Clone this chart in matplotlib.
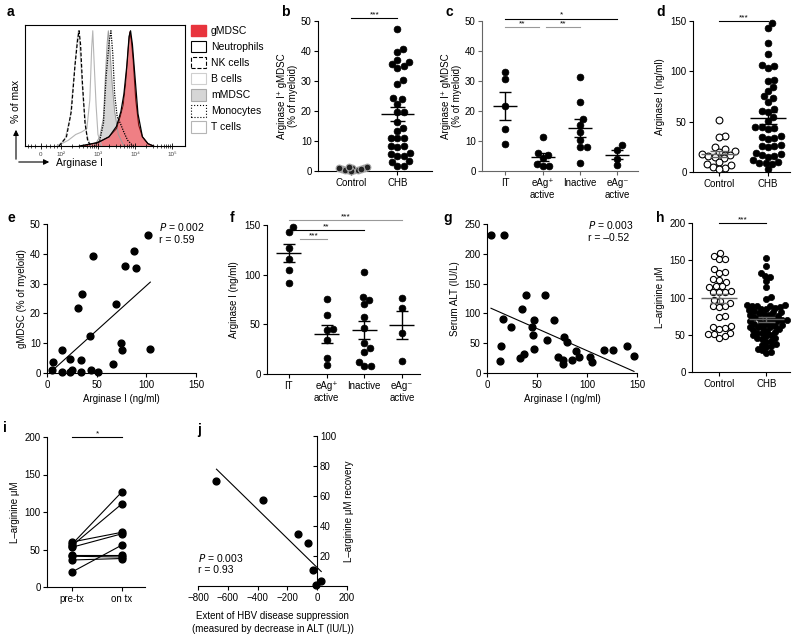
import numpy as np
import matplotlib
matplotlib.use('Agg')
import matplotlib.pyplot as plt
from matplotlib.patches import Patch, FancyArrowPatch

plt.rcParams['font.family'] = ['Liberation Sans', 'DejaVu Sans']
plt.rcParams['font.size'] = 7
plt.rcParams['axes.linewidth'] = 0.8
plt.rcParams['xtick.major.width'] = 0.8
plt.rcParams['ytick.major.width'] = 0.8
plt.rcParams['xtick.major.size'] = 3
plt.rcParams['ytick.major.size'] = 3
plt.rcParams['xtick.major.pad'] = 2
plt.rcParams['ytick.major.pad'] = 1.5

W, H = 800, 637

# ---- a: histograms, x in decades (1 = 10^2, 2 = 10^3, ...) ----
hist_labels = ['gMDSC', 'Neutrophils', 'NK cells', 'B cells', 'mMDSC', 'Monocytes', 'T cells']
a_ticklabels = ['0', '10²', '10³', '10⁴', '10⁵']
gmdsc_x = [1.6, 2.0, 2.3, 2.5, 2.6, 2.68, 2.75, 2.82, 2.86, 2.9, 2.95, 3.02, 3.1, 3.2, 3.35, 3.5]
gmdsc_y = [0, 3, 8, 15, 25, 35, 55, 85, 99, 92, 75, 40, 18, 8, 2, 0]
neut_x = [1.5, 2.0, 2.3, 2.5, 2.62, 2.7, 2.78, 2.84, 2.88, 2.93, 3.0, 3.08, 3.2, 3.35, 3.5]
neut_y = [0, 3, 8, 17, 30, 45, 70, 95, 100, 88, 60, 28, 8, 2, 0]
mono_x = [1.9, 2.05, 2.15, 2.22, 2.3, 2.35, 2.4, 2.45, 2.52, 2.6, 2.7, 2.8, 2.95]
mono_y = [0, 5, 20, 60, 90, 100, 80, 45, 25, 20, 12, 5, 0]
mmdsc_x = [1.9, 2.05, 2.15, 2.2, 2.25, 2.28, 2.32, 2.38, 2.45, 2.55, 2.7]
mmdsc_y = [0, 8, 25, 60, 90, 100, 85, 55, 30, 10, 0]
bcell_x = [0.9, 1.2, 1.4, 1.55, 1.7, 1.78, 1.83, 1.86, 1.9, 1.95, 2.0, 2.1]
bcell_y = [0, 5, 10, 12, 15, 40, 85, 100, 70, 35, 10, 0]
nk_x = [0.95, 1.15, 1.28, 1.38, 1.45, 1.49, 1.53, 1.58, 1.65, 1.72, 1.8]
nk_y = [0, 8, 30, 70, 92, 100, 88, 55, 20, 5, 0]
tcell_x = [0.9, 1.1, 1.25, 1.35, 1.43, 1.47, 1.52, 1.6, 1.7, 1.8]
tcell_y = [0, 5, 25, 60, 90, 100, 80, 40, 10, 0]

# ---- b ----
b_groups = ['Control', 'CHB']
b_control = [0.2, 0.4, 0.9, 1.2, 0.3, 0.8, 1.1, 0.5, 0.1, 1.0, 0.6, 1.3]
b_chb = [47.3, 40.6, 39.8, 37.0, 36.4, 35.6, 35.0, 34.4, 30.3, 29.0, 24.2, 23.9, 22.5,
         19.7, 19.7, 16.4, 14.5, 13.4, 11.0, 11.0, 11.0, 8.4, 8.4, 8.0, 6.0, 5.7, 5.0,
         4.9, 3.3, 3.0, 1.8, 1.7]

# ---- c ----
phase_labels = ['IT', 'eAg⁺\nactive', 'Inactive', 'eAg⁻\nactive']
c_it = [33.1, 30.8, 21.6, 14.1, 9.1]
c_eag_pos = [11.2, 6.0, 5.5, 4.5, 2.5, 1.8, 1.6]
c_inactive = [31.3, 23.0, 17.5, 15.5, 13.0, 10.2, 8.0, 8.0, 2.7]
c_eag_neg = [8.6, 7.0, 4.1, 1.9]

# ---- d ----
d_control = [52, 36, 35, 25, 23, 21, 20, 18, 17, 16, 15, 14, 10, 8, 7, 5, 4, 3]
d_chb = [148, 143, 128, 117, 106, 105, 103, 91, 90, 84, 80, 75, 74, 70, 63, 61, 60, 55,
         51, 45, 45, 44, 43, 36, 35, 34, 33, 27, 26, 26, 25, 19, 18, 17, 16, 15, 12, 10,
         9, 9, 8, 3]

# ---- e ----
e_arg = [101.7, 87.7, 46.0, 79.0, 90.0, 35.0, 31.7, 69.7, 43.3, 74.3, 75.7, 104.0, 15.0,
         6.0, 22.7, 34.3, 66.0, 5.3, 25.3, 44.0, 14.7, 22.7, 34.0, 51.0]
e_gmdsc = [46.3, 41.1, 39.4, 36.0, 35.4, 26.5, 21.7, 23.3, 12.4, 10.0, 7.8, 8.0, 7.6,
           3.7, 4.7, 4.5, 3.0, 1.0, 1.1, 1.1, 0.3, 0.2, 0.3, 0.4]

# ---- f ----
f_it = [147.7, 142.6, 127.2, 115.8, 104.7, 91.3]
f_eag_pos = [75.5, 59.4, 45.0, 44.3, 34.2, 15.8, 9.1]
f_inactive = [102.3, 77.2, 74.5, 70.1, 57.0, 46.6, 31.5, 25.8, 22.5, 12.4, 8.4, 8.4]
f_eag_neg = [76.2, 66.8, 41.0, 13.4]

# ---- g ----
g_arg = [4, 17.3, 39, 58.3, 35, 16, 47.3, 66.7, 24, 45, 45.7, 60, 76.7, 80, 14.3, 47,
         36.7, 32.7, 71, 12.7, 75.7, 76, 85, 89.3, 91.7, 102.7, 105, 116.7, 126, 140, 147]
g_alt = [231.6, 231.6, 131, 131, 107, 90.4, 89.3, 89.3, 77, 76.5, 64.2, 54.7, 59.7, 51.9,
         44.6, 40.7, 32.4, 25.1, 26.2, 20.6, 15.6, 21.2, 21.2, 36.3, 26.2, 26.2, 18.4,
         37.9, 38, 45, 28]

# ---- h ----
h_control = [160, 156, 152, 152, 138, 134, 133, 125, 124, 121, 115, 115, 114, 109, 108,
             108, 108, 97, 95, 93, 89, 88, 87, 75, 74, 62, 61, 59, 58, 53, 51, 51, 48, 46]
h_chb = [153, 142, 133, 129, 127, 122, 114, 101, 98, 90, 90, 89, 88, 88, 87, 86, 85, 84,
         83, 82, 80, 80, 79, 78, 77, 76, 75, 74, 73, 72, 71, 70, 70, 69, 68, 67, 66, 65,
         64, 63, 62, 61, 60, 60, 59, 58, 56, 55, 54, 53, 52, 50, 49, 48, 46, 45, 44, 42,
         40, 38, 36, 35, 33, 31, 29, 27, 25]

# ---- i ----
i_groups = ['pre-tx', 'on tx']
i_pre = [60, 57, 55, 53, 43, 41, 36, 20]
i_on = [73, 127, 111, 71, 43, 40, 38, 56]

# ---- j ----
j_alt = [-676, -366, -126, -58.5, -29, -6.8, 27]
j_arg = [69.8, 57.5, 34.9, 28.7, 10.9, 0.7, 3.3]


def add_ax(fig, left, right, top, bottom):
    return fig.add_axes([left / W, 1 - bottom / H, (right - left) / W, (bottom - top) / H])


def prism(ax):
    ax.spines['top'].set_visible(False)
    ax.spines['right'].set_visible(False)


def swarm(ax, x0, vals, diam):
    # simple beeswarm in pixel space
    tr = ax.transData
    ypx = tr.transform(np.column_stack([np.full(len(vals), x0), vals]))[:, 1]
    xscale = tr.transform((1, 0))[0] - tr.transform((0, 0))[0]
    placed = []
    xs = np.zeros(len(vals))
    for i in np.argsort(ypx):
        y = ypx[i]
        cands = [0.0]
        for px, py in placed:
            dy = y - py
            if abs(dy) < diam:
                dx = np.sqrt(diam ** 2 - dy ** 2)
                cands += [px + dx, px - dx]
        cands.sort(key=abs)
        for c in cands:
            if all((c - px) ** 2 + (y - py) ** 2 >= diam ** 2 - 1e-6 for px, py in placed):
                break
        placed.append((c, y))
        xs[i] = c
    return x0 + xs / xscale


def dots(ax, x0, vals, diam=6.5, s=24, open_=False, fc='black', ec='black', lw=0.5):
    xs = swarm(ax, x0, vals, diam)
    if open_:
        ax.scatter(xs, vals, s=s, facecolor='white', edgecolor='black', linewidth=0.8,
                   clip_on=False, zorder=3)
    else:
        ax.scatter(xs, vals, s=s, facecolor=fc, edgecolor=ec, linewidth=lw,
                   clip_on=False, zorder=3)


def mean_sem(ax, x, vals, wm, ws, color='black'):
    vals = np.asarray(vals, dtype=float)
    m = vals.mean()
    s = vals.std(ddof=1) / np.sqrt(len(vals))
    kw = dict(color=color, lw=1.0, zorder=4, solid_capstyle='butt')
    ax.plot([x - wm, x + wm], [m, m], **kw)
    ax.plot([x, x], [m - s, m + s], **kw)
    ax.plot([x - ws, x + ws], [m + s, m + s], **kw)
    ax.plot([x - ws, x + ws], [m - s, m - s], **kw)


def sig(ax, x1, x2, y, stars, color='black'):
    ax.plot([x1, x2], [y, y], color=color, lw=0.8, clip_on=False)
    ax.text((x1 + x2) / 2, y, stars, ha='center', va='bottom', fontsize=6)


def fit_line(ax, x, y):
    k, b0 = np.polyfit(x, y, 1)
    xx = np.array([min(x), max(x)])
    ax.plot(xx, k * xx + b0, color='black', lw=0.8, zorder=2)


def letter(x, y, t):
    fig.text(x / W, 1 - y / H, t, fontsize=10, fontweight='bold', ha='left', va='center')


fig = plt.figure(figsize=(8, 6.37), dpi=100)

# ================= a =================
ax = add_ax(fig, 25, 185, 25, 146)
ax.set_xlim(0.03, 4.35)
ax.set_ylim(0, 105)
ax.plot(tcell_x, tcell_y, color='#c8c8c8', lw=0.8)
ax.plot(bcell_x, bcell_y, color='#b5b5b5', lw=0.8)
ax.fill_between(mmdsc_x, mmdsc_y, color='#d6d6d6', lw=0)
ax.plot(mmdsc_x, mmdsc_y, color='#9a9a9a', lw=0.7)
ax.fill_between(gmdsc_x, gmdsc_y, color='#ef7f84', lw=0)
ax.plot(gmdsc_x, gmdsc_y, color='#7a1010', lw=0.8)
ax.plot(neut_x, neut_y, color='black', lw=0.9)
ax.plot(mono_x, mono_y, color='black', lw=0.9, ls=(0, (1, 1)))
ax.plot(nk_x, nk_y, color='black', lw=0.9, ls=(0, (3, 1.5)))
ax.set_yticks([])
ax.set_xticks([0.46, 1, 2, 3, 4])
ax.set_xticklabels(a_ticklabels, fontsize=4.5, color='#444444')
minor = [0.1, 0.2, 0.3, 0.6, 0.7, 0.8, 0.9]
for k in range(1, 4):
    minor += [k + np.log10(m) for m in range(2, 10)]
ax.set_xticks(minor, minor=True)
ax.tick_params(axis='x', which='major', direction='inout', length=4, width=0.6, pad=2)
ax.tick_params(axis='x', which='minor', direction='inout', length=2.5, width=0.5)
handles = [
    Patch(facecolor='#e8343d', edgecolor='#e8343d'),
    Patch(facecolor='white', edgecolor='black', lw=0.8),
    Patch(facecolor='white', edgecolor='black', lw=0.8, linestyle='--'),
    Patch(facecolor='white', edgecolor='#cfcfcf', lw=0.8),
    Patch(facecolor='#d6d6d6', edgecolor='#a8a8a8', lw=0.8),
    Patch(facecolor='white', edgecolor='black', lw=0.8, linestyle=':'),
    Patch(facecolor='white', edgecolor='#b5b5b5', lw=0.8),
]
fig.legend(handles, hist_labels, loc='upper left', bbox_to_anchor=(191 / W, 1 - 25 / H),
           frameon=False, fontsize=7.5, handlelength=1.4, handleheight=1.3,
           labelspacing=0.45, handletextpad=0.5, borderpad=0, borderaxespad=0)
for end in [(16, 127), (52, 162)]:
    fig.add_artist(FancyArrowPatch((16 / W, 1 - 162 / H), (end[0] / W, 1 - end[1] / H),
                                   transform=fig.transFigure, mutation_scale=8,
                                   arrowstyle='-|>', lw=0.8, color='black'))
fig.text(16 / W, 1 - 101 / H, '% of max', rotation=90, ha='center', va='center', fontsize=7.5)
fig.text(56 / W, 1 - 163 / H, 'Arginase I', ha='left', va='center', fontsize=7.5)

# ================= b =================
ax = add_ax(fig, 318, 432, 21, 171)
prism(ax)
ax.set_xlim(-0.72, 1.75)
ax.set_ylim(0, 50)
ax.set_yticks(range(0, 51, 10))
ax.set_xticks([0, 1])
ax.set_xticklabels(b_groups)
dots(ax, 0, b_control, diam=3.2, s=24, fc='#222222', ec='#aaaaaa', lw=0.8)
dots(ax, 1, b_chb, diam=6.5)
mean_sem(ax, 1, b_chb, 0.36, 0.17)
sig(ax, 0, 1, 51, '***')
ax.set_ylabel('Arginase I⁺ gMDSC\n(% of myeloid)', labelpad=2)

# ================= c =================
ax = add_ax(fig, 482, 638, 21, 171)
prism(ax)
for sp in ['left', 'bottom']:
    ax.spines[sp].set_color('#666666')
ax.tick_params(colors='#666666', labelcolor='black')
ax.set_xlim(-0.62, 3.55)
ax.set_ylim(0, 50)
ax.set_yticks(range(0, 51, 10))
ax.set_xticks(range(4))
ax.set_xticklabels(phase_labels)
for k, vals in enumerate([c_it, c_eag_pos, c_inactive, c_eag_neg]):
    dots(ax, k, vals, diam=6.5)
    mean_sem(ax, k, vals, 0.32, 0.16)
sig(ax, 0, 3, 50.8, '*')
sig(ax, 0, 0.9, 48, '**', color='#999999')
sig(ax, 1.1, 2, 48, '**', color='#999999')
ax.set_ylabel('Arginase I⁺ gMDSC\n(% of myeloid)', labelpad=2)

# ================= d =================
ax = add_ax(fig, 693, 790, 21, 172)
prism(ax)
ax.set_xlim(-0.53, 1.45)
ax.set_ylim(0, 150)
ax.set_yticks([0, 50, 100, 150])
ax.set_xticks([0, 1])
ax.set_xticklabels(b_groups)
dots(ax, 0, d_control, diam=6.5, open_=True)
dots(ax, 1, d_chb, diam=6.5)
mean_sem(ax, 0, d_control, 0.36, 0.18, color='#666666')
mean_sem(ax, 1, d_chb, 0.36, 0.18)
sig(ax, 0, 1, 150, '***')
ax.set_ylabel('Arginase I (ng/ml)', labelpad=4)

# ================= e =================
ax = add_ax(fig, 47, 196, 224, 373)
prism(ax)
ax.set_xlim(0, 150)
ax.set_ylim(0, 50)
ax.set_xticks([0, 50, 100, 150])
ax.set_yticks(range(0, 51, 10))
ax.scatter(e_arg, e_gmdsc, s=24, color='black', clip_on=False, zorder=3)
fit_line(ax, e_arg, e_gmdsc)
ax.text(113, 47, '$P$ = 0.002\nr = 0.59', fontsize=7.5, va='center', ha='left',
        linespacing=1.2)
ax.set_xlabel('Arginase I (ng/ml)', labelpad=3)
ax.set_ylabel('gMDSC (% of myeloid)', labelpad=2)

# ================= f =================
ax = add_ax(fig, 267, 420, 225, 374)
prism(ax)
ax.set_xlim(-0.58, 3.48)
ax.set_ylim(0, 150)
ax.set_yticks([0, 50, 100, 150])
ax.set_xticks(range(4))
ax.set_xticklabels(phase_labels)
for k, vals in enumerate([f_it, f_eag_pos, f_inactive, f_eag_neg]):
    dots(ax, k, vals, diam=6.5)
    mean_sem(ax, k, vals, 0.33, 0.16)
sig(ax, 0, 3, 155, '***', color='#999999')
sig(ax, 0, 2, 145, '**')
sig(ax, 0.3, 1, 136, '***', color='#999999')
ax.set_ylabel('Arginase I (ng/ml)', labelpad=4)

# ================= g =================
ax = add_ax(fig, 487, 637, 224, 373)
prism(ax)
ax.set_xlim(0, 150)
ax.set_ylim(0, 250)
ax.set_xticks([0, 50, 100, 150])
ax.set_yticks(range(0, 251, 50))
ax.scatter(g_arg, g_alt, s=24, color='black', clip_on=False, zorder=3)
fit_line(ax, g_arg, g_alt)
ax.text(101, 238, '$P$ = 0.003\nr = –0.52', fontsize=7.5, va='center', ha='left',
        linespacing=1.2)
ax.set_xlabel('Arginase I (ng/ml)', labelpad=3)
ax.set_ylabel('Serum ALT (IU/L)', labelpad=3)

# ================= h =================
ax = add_ax(fig, 692, 790, 223, 372)
prism(ax)
ax.set_xlim(-0.57, 1.5)
ax.set_ylim(0, 200)
ax.set_yticks(range(0, 201, 50))
ax.set_xticks([0, 1])
ax.set_xticklabels(b_groups)
dots(ax, 0, h_control, diam=6.0, s=20, open_=True)
dots(ax, 1, h_chb, diam=5.0, s=20)
mean_sem(ax, 0, h_control, 0.37, 0.18, color='#666666')
mean_sem(ax, 1, h_chb, 0.37, 0.18, color='#666666')
sig(ax, 0, 1, 200, '***')
ax.set_ylabel('L–arginine μM', labelpad=3)

# ================= i =================
ax = add_ax(fig, 47, 145, 437, 587)
prism(ax)
ax.set_xlim(-0.5, 1.46)
ax.set_ylim(0, 200)
ax.set_yticks(range(0, 201, 50))
ax.set_xticks([0, 1])
ax.set_xticklabels(i_groups)
for p, o in zip(i_pre, i_on):
    ax.plot([0, 1], [p, o], color='black', lw=0.8, zorder=2)
ax.scatter([0] * len(i_pre), i_pre, s=24, color='black', zorder=3, clip_on=False)
ax.scatter([1] * len(i_on), i_on, s=24, color='black', zorder=3, clip_on=False)
sig(ax, 0, 1, 200, '*')
ax.set_ylabel('L–arginine μM', labelpad=3)

# ================= j =================
ax = add_ax(fig, 198, 347, 436, 586)
ax.spines['top'].set_visible(False)
ax.spines['left'].set_visible(False)
ax.spines['right'].set_position(('data', 0))
ax.yaxis.tick_right()
ax.yaxis.set_label_position('right')
ax.set_xlim(-800, 200)
ax.set_ylim(0, 100)
ax.set_xticks(range(-800, 201, 200))
ax.set_yticks(range(20, 101, 20))
ax.tick_params(axis='y', direction='in', pad=2)
ax.scatter(j_alt, j_arg, s=24, color='black', clip_on=False, zorder=3)
fit_line(ax, j_alt, j_arg)
ax.text(-800, 15, '$P$ = 0.003\nr = 0.93', fontsize=7.5, va='center', ha='left',
        linespacing=1.2)
ax.set_xlabel('Extent of HBV disease suppression\n(measured by decrease in ALT (IU/L))',
              labelpad=6, linespacing=1.3)
ax.set_ylabel('L–arginine μM recovery', labelpad=6)

letter(7, 12, 'a')
letter(281, 12, 'b')
letter(446, 12, 'c')
letter(656, 12, 'd')
letter(8, 218, 'e')
letter(230, 218, 'f')
letter(443, 218, 'g')
letter(656, 218, 'h')
letter(3, 428, 'i')
letter(197, 430, 'j')

fig.savefig('out.png', dpi=100)
